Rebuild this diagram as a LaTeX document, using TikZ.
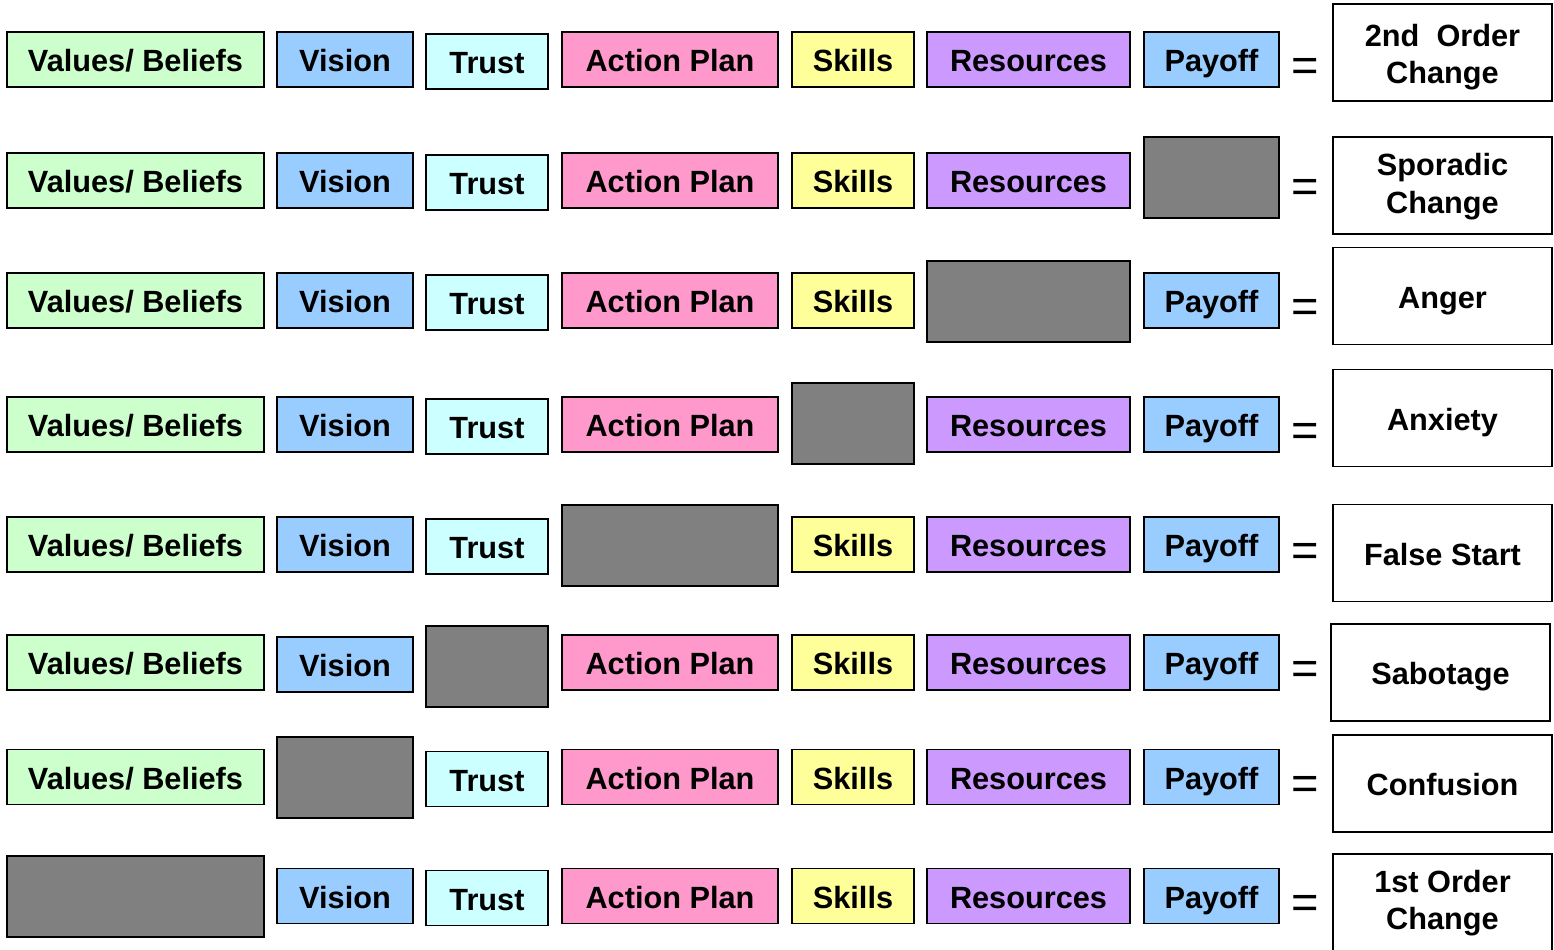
\documentclass[tikz,border=0pt]{standalone}
\usepackage{fontspec}
\setmainfont{Liberation Sans}
\definecolor{cVB}{HTML}{CCFFCC}
\definecolor{cVi}{HTML}{99CCFF}
\definecolor{cTr}{HTML}{CCFFFF}
\definecolor{cAP}{HTML}{FF99CC}
\definecolor{cSk}{HTML}{FFFF99}
\definecolor{cRe}{HTML}{CC99FF}
\definecolor{cPa}{HTML}{99CCFF}
\definecolor{cGap}{HTML}{808080}
\begin{document}
\begin{tikzpicture}[x=0.5pt,y=-0.5pt,
  cell/.style={draw=black, line width=0.9pt, inner sep=0pt, minimum height=27.5pt,
    font=\fontsize{15.35}{18}\selectfont\bfseries, text height=12pt, text depth=0pt},
  gap/.style={fill=cGap, minimum height=40.5pt},
  vb/.style={cell, fill=cVB, minimum width=128.5pt},
  vi/.style={cell, fill=cVi, minimum width=68pt},
  tr/.style={cell, fill=cTr, minimum width=61pt},
  ap/.style={cell, fill=cAP, minimum width=108pt},
  sk/.style={cell, fill=cSk, minimum width=61pt},
  re/.style={cell, fill=cRe, minimum width=101.5pt},
  pa/.style={cell, fill=cPa, minimum width=67.5pt},
  res/.style={cell, fill=white, minimum width=109.5pt, minimum height=48.5pt},
  txt/.style={inner sep=0pt, anchor=base, font=\fontsize{15.35}{18}\selectfont\bfseries},
  eq/.style={inner sep=0pt, anchor=base, font=\fontsize{23.5}{28}\selectfont}]
\useasboundingbox (0,0) rectangle (1554,949);

% Row 1: everything present
\node[vb] (v1) at (135.5,59.5) {Values/ Beliefs};
\node[vi] (i1) at (345,59.5) {Vision};
\node[tr] (t1) at (487,61.5) {Trust};
\node[ap] (a1) at (670,59.5) {Action Plan};
\node[sk] (s1) at (853,59.5) {Skills};
\node[re] (r1) at (1028.5,59.5) {Resources};
\node[pa] (p1) at (1211.5,59.5) {Payoff};
\node[eq] (e1) at (1305,81.5) {=};
\node[res] (o1) at (1442.5,52.5) {};
\node[txt] (o1a) at (1442.5,46) {2nd~~Order};
\node[txt] (o1b) at (1442.5,83) {Change};

% Row 2: no payoff
\node[vb] (v2) at (135.5,180.5) {Values/ Beliefs};
\node[vi] (i2) at (345,180.5) {Vision};
\node[tr] (t2) at (487,182.5) {Trust};
\node[ap] (a2) at (670,180.5) {Action Plan};
\node[sk] (s2) at (853,180.5) {Skills};
\node[re] (r2) at (1028.5,180.5) {Resources};
\node[pa, gap] (p2) at (1211.5,177.5) {};
\node[eq] (e2) at (1305,202.5) {=};
\node[res] (o2) at (1442.5,185.5) {};
\node[txt] (o2a) at (1442.5,175) {Sporadic};
\node[txt] (o2b) at (1442.5,213) {Change};

% Row 3: no resources
\node[vb] (v3) at (135.5,300.5) {Values/ Beliefs};
\node[vi] (i3) at (345,300.5) {Vision};
\node[tr] (t3) at (487,302.5) {Trust};
\node[ap] (a3) at (670,300.5) {Action Plan};
\node[sk] (s3) at (853,300.5) {Skills};
\node[re, gap] (r3) at (1028.5,301.5) {};
\node[pa] (p3) at (1211.5,300.5) {Payoff};
\node[eq] (e3) at (1305,322.5) {=};
\node[res] (o3) at (1442.5,296) {Anger};

% Row 4: no skills
\node[vb] (v4) at (135.5,424.5) {Values/ Beliefs};
\node[vi] (i4) at (345,424.5) {Vision};
\node[tr] (t4) at (487,426.5) {Trust};
\node[ap] (a4) at (670,424.5) {Action Plan};
\node[sk, gap] (s4) at (853,423.5) {};
\node[re] (r4) at (1028.5,424.5) {Resources};
\node[pa] (p4) at (1211.5,424.5) {Payoff};
\node[eq] (e4) at (1305,446.5) {=};
\node[res] (o4) at (1442.5,418) {Anxiety};

% Row 5: no action plan
\node[vb] (v5) at (135.5,544.5) {Values/ Beliefs};
\node[vi] (i5) at (345,544.5) {Vision};
\node[tr] (t5) at (487,546.5) {Trust};
\node[ap, gap] (a5) at (670,545.5) {};
\node[sk] (s5) at (853,544.5) {Skills};
\node[re] (r5) at (1028.5,544.5) {Resources};
\node[pa] (p5) at (1211.5,544.5) {Payoff};
\node[eq] (e5) at (1305,566.5) {=};
\node[res] (o5) at (1442.5,553) {False Start};

% Row 6: no trust
\node[vb] (v6) at (135.5,662.5) {Values/ Beliefs};
\node[vi] (i6) at (345,664.5) {Vision};
\node[tr, gap] (t6) at (487,666.5) {};
\node[ap] (a6) at (670,662.5) {Action Plan};
\node[sk] (s6) at (853,662.5) {Skills};
\node[re] (r6) at (1028.5,662.5) {Resources};
\node[pa] (p6) at (1211.5,662.5) {Payoff};
\node[eq] (e6) at (1305,684.5) {=};
\node[res] (o6) at (1440.5,672.5) {Sabotage};

% Row 7: no vision
\node[vb] (v7) at (135.5,777) {Values/ Beliefs};
\node[vi, gap] (i7) at (345,777.5) {};
\node[tr] (t7) at (487,779) {Trust};
\node[ap] (a7) at (670,777) {Action Plan};
\node[sk] (s7) at (853,777) {Skills};
\node[re] (r7) at (1028.5,777) {Resources};
\node[pa] (p7) at (1211.5,777) {Payoff};
\node[eq] (e7) at (1305,799) {=};
\node[res] (o7) at (1442.5,783.5) {Confusion};

% Row 8: no values/beliefs
\node[vb, gap] (v8) at (135.5,896.5) {};
\node[vi] (i8) at (345,896) {Vision};
\node[tr] (t8) at (487,898) {Trust};
\node[ap] (a8) at (670,896) {Action Plan};
\node[sk] (s8) at (853,896) {Skills};
\node[re] (r8) at (1028.5,896) {Resources};
\node[pa] (p8) at (1211.5,896) {Payoff};
\node[eq] (e8) at (1305,918) {=};
\node[res] (o8) at (1442.5,902.5) {};
\node[txt] (o8a) at (1442.5,892) {1st Order};
\node[txt] (o8b) at (1442.5,929) {Change};
\end{tikzpicture}
\end{document}
